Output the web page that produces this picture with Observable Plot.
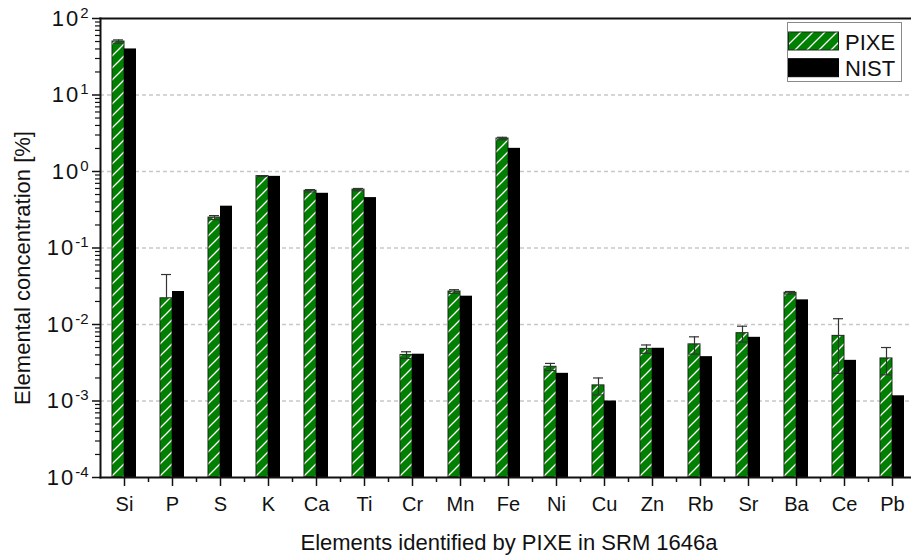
<!DOCTYPE html>
<html>
<head>
<meta charset="utf-8">
<script src="https://cdn.jsdelivr.net/npm/d3@7"></script>
<script src="https://cdn.jsdelivr.net/npm/@observablehq/plot@0.6"></script>
<style>
  body { margin: 0; background: #fff; }
  #chart { position: relative; width: 911px; height: 555px; font-family: "Liberation Sans", Arial, sans-serif; }
  #legend { position: absolute; left: 787px; top: 22px; }
</style>
</head>
<body>
<div id="chart"></div>
<script>
// Elements measured by PIXE in SRM 1646a (estuarine sediment), concentrations in %
const elements = ["Si", "P", "S", "K", "Ca", "Ti", "Cr", "Mn", "Fe", "Ni", "Cu", "Zn", "Rb", "Sr", "Ba", "Ce", "Pb"];
const pixe     = [50, 0.022, 0.25, 0.87, 0.56, 0.58, 0.0040, 0.027, 2.7, 0.0028, 0.0016, 0.0048, 0.0055, 0.0077, 0.026, 0.0071, 0.0036];
const pixeErr  = [2.5, 0.023, 0.015, 0.01, 0.02, 0.02, 0.0004, 0.0015, 0.1, 0.0003, 0.0004, 0.0006, 0.0014, 0.0018, 0.001, 0.0048, 0.0014];
const nist     = [40.0, 0.027, 0.352, 0.864, 0.519, 0.456, 0.00409, 0.02345, 2.008, 0.0023, 0.001, 0.00489, 0.0038, 0.0068, 0.021, 0.0034, 0.00117];
const series   = ["PIXE", "NIST"];

const xTitle = "Elements identified by PIXE in SRM 1646a";
const yTitle = "Elemental concentration [%]";

const decades = [1e-4, 1e-3, 1e-2, 1e-1, 1, 10, 100];
const gridLevels = [1e-3, 1e-2, 1e-1, 1, 10];
const minorTicks = [];
for (let e = -4; e < 2; e++) for (let m = 2; m < 10; m++) minorTicks.push(m * Math.pow(10, e));

// Lower error limit stays at the bar top when it would fall to zero or below (log axis)
const rows = elements.map((el, i) => {
  const lo = pixe[i] - pixeErr[i];
  return {el, pixe: pixe[i], hi: pixe[i] + pixeErr[i], lo: lo > 0 ? lo : null, nist: nist[i]};
});

const half = 12;         // each bar takes half of the 24px band
const ink = "#111";

const svg = Plot.plot({
  width: 911,
  height: 555,
  marginLeft: 100,
  marginRight: 0,
  marginTop: 18,
  marginBottom: 78,
  style: {fontFamily: "'Liberation Sans', Arial, sans-serif", background: "white", color: ink, overflow: "visible"},
  x: {type: "band", domain: elements, range: [100, 916], paddingInner: 0.5, paddingOuter: 0.25},
  y: {type: "log", domain: [1e-4, 100]},
  marks: [
    Plot.ruleY(gridLevels, {stroke: "#c8c8c8", strokeDasharray: "4,3", strokeWidth: 1.5}),
    Plot.barY(rows, {x: "el", y1: 1e-4, y2: "pixe", insetRight: half, fill: "url(#pixe-hatch)", stroke: "#1b2a1b", strokeWidth: 1}),
    Plot.barY(rows, {x: "el", y1: 1e-4, y2: "nist", insetLeft: half, fill: "#000"}),
    Plot.ruleX(rows, {x: "el", y1: d => d.lo ?? d.pixe, y2: "hi", dx: -6, stroke: "#333", strokeWidth: 1.2}),
    Plot.tickY(rows, {x: "el", y: "hi", insetLeft: 1, insetRight: 13, stroke: "#333", strokeWidth: 1.2}),
    Plot.tickY(rows.filter(d => d.lo != null), {x: "el", y: "lo", insetLeft: 1, insetRight: 13, stroke: "#333", strokeWidth: 1.2}),
    Plot.frame({anchor: "left", strokeWidth: 2}),
    Plot.frame({anchor: "bottom", strokeWidth: 2}),
    Plot.frame({anchor: "top", strokeWidth: 2}),
    Plot.axisY({ticks: decades, tickSize: 8, tickPadding: 4, tickFormat: d => `10^${Math.round(Math.log10(d))}`, fontSize: 22, label: null, strokeWidth: 1.5}),
    Plot.axisY({ticks: minorTicks, tickSize: 5, tickFormat: () => "", label: null, strokeWidth: 1.2}),
    Plot.axisX({tickSize: 9, tickPadding: 10, fontSize: 20, label: null, strokeWidth: 1.5}),
    Plot.axisX({ticks: elements.slice(0, -1), tickSize: 5, tickFormat: () => "", label: null, dx: 24, strokeWidth: 1.5}),
    Plot.text([xTitle], {frameAnchor: "bottom", textAnchor: "middle", lineAnchor: "middle", dx: 3, dy: 65, fontSize: 22}),
    Plot.text([yTitle], {frameAnchor: "left", textAnchor: "middle", lineAnchor: "middle", rotate: -90, dx: -78, dy: 20, fontSize: 22})
  ]
});

const ns = "http://www.w3.org/2000/svg";

// Hatch pattern for the PIXE bars
const defs = document.createElementNS(ns, "defs");
defs.innerHTML = `<pattern id="pixe-hatch" patternUnits="userSpaceOnUse" width="12" height="12">
  <rect width="12" height="12" fill="#008000"/>
  <path d="M0,12L12,0M-3,3L3,-3M9,15L15,9" stroke="#fff" stroke-width="1.3"/>
</pattern>`;
svg.insertBefore(defs, svg.firstChild);

// Powers of ten with raised exponents
svg.querySelectorAll("text").forEach(t => {
  const m = /^10\^(-?\d+)$/.exec(t.textContent);
  if (!m) return;
  t.textContent = "";
  const base = document.createElementNS(ns, "tspan");
  base.setAttribute("letter-spacing", "2");
  base.textContent = "10";
  const sup = document.createElementNS(ns, "tspan");
  sup.setAttribute("dy", "-8");
  sup.setAttribute("font-size", "15");
  sup.textContent = m[1];
  t.appendChild(base);
  t.appendChild(sup);
});

const chart = document.getElementById("chart");
chart.appendChild(svg);

// Legend box inside the plot area
const lg = d3.select(chart).append("svg")
  .attr("id", "legend")
  .attr("width", 116)
  .attr("height", 61)
  .style("font-family", "'Liberation Sans', Arial, sans-serif");
lg.append("rect").attr("x", 0.5).attr("y", 0.5).attr("width", 114).attr("height", 59)
  .attr("fill", "white").attr("stroke", "#8a8a8a");
const swatchFill = {PIXE: "url(#pixe-hatch)", NIST: "#000"};
series.forEach((s, i) => {
  const g = lg.append("g").attr("transform", `translate(0,${i * 26.7})`);
  g.append("rect").attr("x", 1.5).attr("y", 10).attr("width", 50).attr("height", 18)
    .attr("fill", swatchFill[s]).attr("stroke", s === "PIXE" ? "#1b2a1b" : "#000");
  g.append("text").attr("x", 58).attr("y", 27.5).attr("font-size", 22).attr("fill", ink).text(s);
});
</script>
</body>
</html>
